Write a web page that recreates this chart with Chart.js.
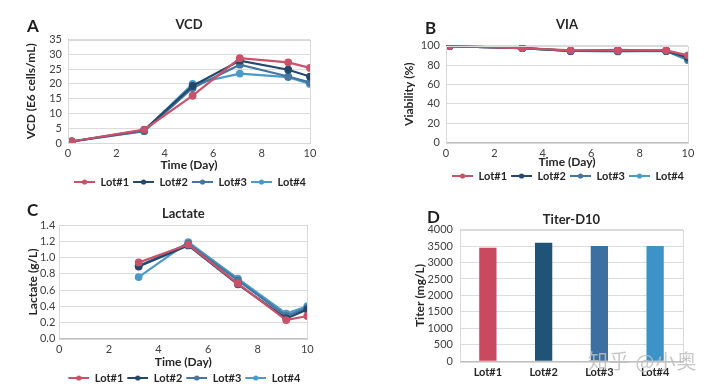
<!DOCTYPE html>
<html>
<head>
<meta charset="utf-8">
<script src="https://cdn.jsdelivr.net/npm/chart.js@4/dist/chart.umd.min.js"></script>
<style>
  html, body { margin: 0; padding: 0; background: #fff; }
  #wrap { position: relative; width: 720px; height: 392px; overflow: hidden; font-family: Lato, sans-serif; }
  .cv { position: absolute; }
  .tag { position: absolute; font-weight: 700; font-size: 17px; color: #1e1e1e; line-height: 1; }
  .wm { position: absolute; left: 588px; top: 346px; font-family: "Noto Sans CJK SC", sans-serif; font-size: 20px; color: rgba(190,190,190,0.85); letter-spacing: 1px; }
</style>
</head>
<body>
<div id="wrap">
  <canvas id="cA" class="cv" width="360" height="196" style="left:0;top:0"></canvas>
  <canvas id="cB" class="cv" width="360" height="196" style="left:360px;top:0"></canvas>
  <canvas id="cC" class="cv" width="360" height="196" style="left:0;top:196px"></canvas>
  <canvas id="cD" class="cv" width="360" height="196" style="left:360px;top:196px"></canvas>
  <div class="tag" style="left:27px;top:17px">A</div>
  <div class="tag" style="left:425px;top:19px">B</div>
  <div class="tag" style="left:27px;top:201px">C</div>
  <div class="tag" style="left:427px;top:208px">D</div>
  <div class="wm">知乎 @小奥</div>
</div>
<script>
// 數據
var lots = ['Lot#1', 'Lot#2', 'Lot#3', 'Lot#4'];
var lotColors = ['#c8526a', '#24486c', '#44769f', '#4a9bc9'];
var barColors = ['#c94a5e', '#1f5478', '#3c70a1', '#3b93c8'];

var vcdDays = [0.15, 3.15, 5.15, 7.1, 9.1, 10];
var vcdLot1 = [0.5, 4.5, 16.0, 28.7, 27.3, 25.4];
var vcdLot2 = [0.5, 4.4, 19.3, 27.9, 24.8, 22.5];
var vcdLot3 = [0.5, 4.0, 18.6, 26.5, 22.5, 20.5];
var vcdLot4 = [0.5, 4.2, 20.0, 23.5, 22.3, 20.0];

var viaDays = [0.15, 3.15, 5.15, 7.1, 9.1, 10];
var viaLot1 = [99.5, 97.5, 95.0, 95.0, 95.0, 90.0];
var viaLot2 = [99.5, 97.5, 94.5, 94.5, 94.5, 88.0];
var viaLot3 = [99.5, 97.5, 94.5, 95.5, 94.5, 86.0];
var viaLot4 = [99.5, 97.5, 94.5, 94.0, 94.5, 85.0];

var lacDays = [3.2, 5.2, 7.2, 9.15, 10];
var lacLot1 = [0.94, 1.16, 0.68, 0.23, 0.28];
var lacLot2 = [0.89, 1.15, 0.67, 0.25, 0.36];
var lacLot3 = [0.90, 1.17, 0.72, 0.28, 0.38];
var lacLot4 = [0.76, 1.19, 0.74, 0.31, 0.40];

var titerD10 = [3450, 3600, 3500, 3500];

var FONT = 'Lato, sans-serif';
var TXT = '#262626';

// 圖例圖示: 線段 + 圓點
function legendIcon(color) {
  var c = document.createElement('canvas');
  c.width = 23; c.height = 8;
  var g = c.getContext('2d');
  g.strokeStyle = color; g.lineWidth = 2;
  g.beginPath(); g.moveTo(2, 4); g.lineTo(23, 4); g.stroke();
  g.fillStyle = color;
  g.beginPath(); g.arc(12.5, 4, 2.6, 0, Math.PI * 2); g.fill();
  return c;
}
var icons = lotColors.map(legendIcon);

// 繪圖區外框
var frame = {
  id: 'frame',
  afterDraw: function(chart) {
    var a = chart.chartArea, ctx = chart.ctx;
    ctx.save();
    ctx.strokeStyle = '#d9d9d9'; ctx.lineWidth = 1;
    ctx.strokeRect(Math.round(a.left) + 0.5, Math.round(a.top) + 0.5, Math.round(a.right - a.left), Math.round(a.bottom - a.top));
    ctx.restore();
  }
};

function pts(xs, ys) {
  return xs.map(function(x, i) { return { x: x, y: ys[i] }; });
}

function lineSets(days, series) {
  return series.map(function(s, i) {
    return {
      label: lots[i],
      data: pts(days, s),
      borderColor: lotColors[i],
      backgroundColor: lotColors[i],
      borderWidth: 2.2,
      pointRadius: 2.8,
      pointHoverRadius: 2.8,
      tension: 0
    };
  });
}

// cfg: { yTitle, yMin, yMax, yStep, dec, left, right, titleText, tPad, yTitlePad, yTickPad, xH, xTitlePad, lpBottom }
function lineChart(id, days, series, cfg) {
  return new Chart(document.getElementById(id), {
    type: 'line',
    data: { datasets: lineSets(days, series) },
    options: {
      responsive: false,
      animation: false,
      layout: { padding: { left: 0, right: cfg.right, top: 0, bottom: cfg.lpBottom } },
      plugins: {
        title: {
          display: true, text: cfg.titleText, fullSize: false, color: TXT,
          font: { family: FONT, size: 13, weight: 'bold' },
          padding: cfg.tPad
        },
        legend: {
          position: 'bottom', fullSize: false,
          labels: {
            usePointStyle: true, pointStyleWidth: 23, padding: 2, color: TXT,
            font: { family: FONT, size: 11, weight: 'bold' },
            generateLabels: function(chart) {
              var items = Chart.defaults.plugins.legend.labels.generateLabels(chart);
              items.forEach(function(it, i) { it.pointStyle = icons[i]; });
              return items;
            }
          }
        },
        tooltip: { enabled: false }
      },
      scales: {
        x: {
          type: 'linear', min: 0, max: 10,
          ticks: { stepSize: 2, autoSkip: false, padding: 4, color: '#404040', font: { family: FONT, size: 11 } },
          grid: { display: false, drawTicks: false },
          border: { color: '#bfbfbf' },
          title: { display: true, text: 'Time (Day)', color: TXT, padding: { top: 0, bottom: cfg.xTitlePad }, font: { family: FONT, size: 12, weight: 'bold', lineHeight: 1 } },
          afterFit: function(s) { s.height = cfg.xH; }
        },
        y: {
          min: cfg.yMin, max: cfg.yMax,
          ticks: {
            stepSize: cfg.yStep, autoSkip: false, padding: cfg.yTickPad, color: '#404040', font: { family: FONT, size: 11 },
            callback: function(v) { return v.toFixed(cfg.dec); }
          },
          grid: { color: '#dcdcdc', drawTicks: false },
          border: { color: '#bfbfbf' },
          title: { display: true, text: cfg.yTitle, color: TXT, padding: { top: cfg.yTitlePad, bottom: 0 }, font: { family: FONT, size: 12, weight: 'bold', lineHeight: 1 } },
          afterFit: function(s) { s.width = cfg.left; }
        }
      }
    },
    plugins: [frame]
  });
}

lineChart('cA', vcdDays, [vcdLot1, vcdLot2, vcdLot3, vcdLot4], {
  titleText: 'VCD', yTitle: 'VCD (E6 cells/mL)', yMin: 0, yMax: 35, yStep: 5, dec: 0,
  left: 68, right: 50, tPad: { top: 17, bottom: 7 }, yTitlePad: 25, yTickPad: 6,
  xH: 31.5, xTitlePad: 3.5, lpBottom: -1.5
});

lineChart('cB', viaDays, [viaLot1, viaLot2, viaLot3, viaLot4], {
  titleText: 'VIA', yTitle: 'Viability (%)', yMin: 0, yMax: 100, yStep: 20, dec: 0,
  left: 86, right: 32, tPad: { top: 17, bottom: 13 }, yTitlePad: 43, yTickPad: 6,
  xH: 25.8, xTitlePad: 0, lpBottom: 4.5
});

lineChart('cC', lacDays, [lacLot1, lacLot2, lacLot3, lacLot4], {
  titleText: 'Lactate', yTitle: 'Lactate (g/L)', yMin: 0, yMax: 1.4, yStep: 0.2, dec: 1,
  left: 59.3, right: 52.7, tPad: { top: 10, bottom: 3.5 }, yTitlePad: 27, yTickPad: 4,
  xH: 31.8, xTitlePad: 2.5, lpBottom: -1.5
});

// D: 柱狀圖
new Chart(document.getElementById('cD'), {
  type: 'bar',
  data: {
    labels: lots,
    datasets: [{ label: 'Titer', data: titerD10, backgroundColor: barColors, borderWidth: 0, categoryPercentage: 1, barPercentage: 0.31 }]
  },
  options: {
    responsive: false,
    animation: false,
    layout: { padding: { left: 0, right: 37, top: 0, bottom: 0 } },
    plugins: {
      title: {
        display: true, text: 'Titer-D10', fullSize: false, color: TXT,
        font: { family: FONT, size: 13, weight: 'bold' },
        padding: { top: 16, bottom: 2 }
      },
      legend: { display: false },
      tooltip: { enabled: false }
    },
    scales: {
      x: {
        ticks: { padding: 5, color: TXT, font: { family: FONT, size: 11, weight: 'bold' } },
        grid: { display: false, drawTicks: false },
        border: { color: '#bfbfbf' },
        afterFit: function(s) { s.height = 30.7; }
      },
      y: {
        min: 0, max: 4000,
        ticks: { stepSize: 500, autoSkip: false, padding: 7, color: '#404040', font: { family: FONT, size: 11 },
          callback: function(v) { return String(v); } },
        grid: { color: '#dcdcdc', drawTicks: false },
        border: { display: false },
        title: { display: true, text: 'Titer (mg/L)', color: TXT, padding: { top: 54, bottom: 0 }, font: { family: FONT, size: 12, weight: 'bold', lineHeight: 1 } },
        afterFit: function(s) { s.width = 100; }
      }
    }
  },
  plugins: [frame]
});
</script>
</body>
</html>
